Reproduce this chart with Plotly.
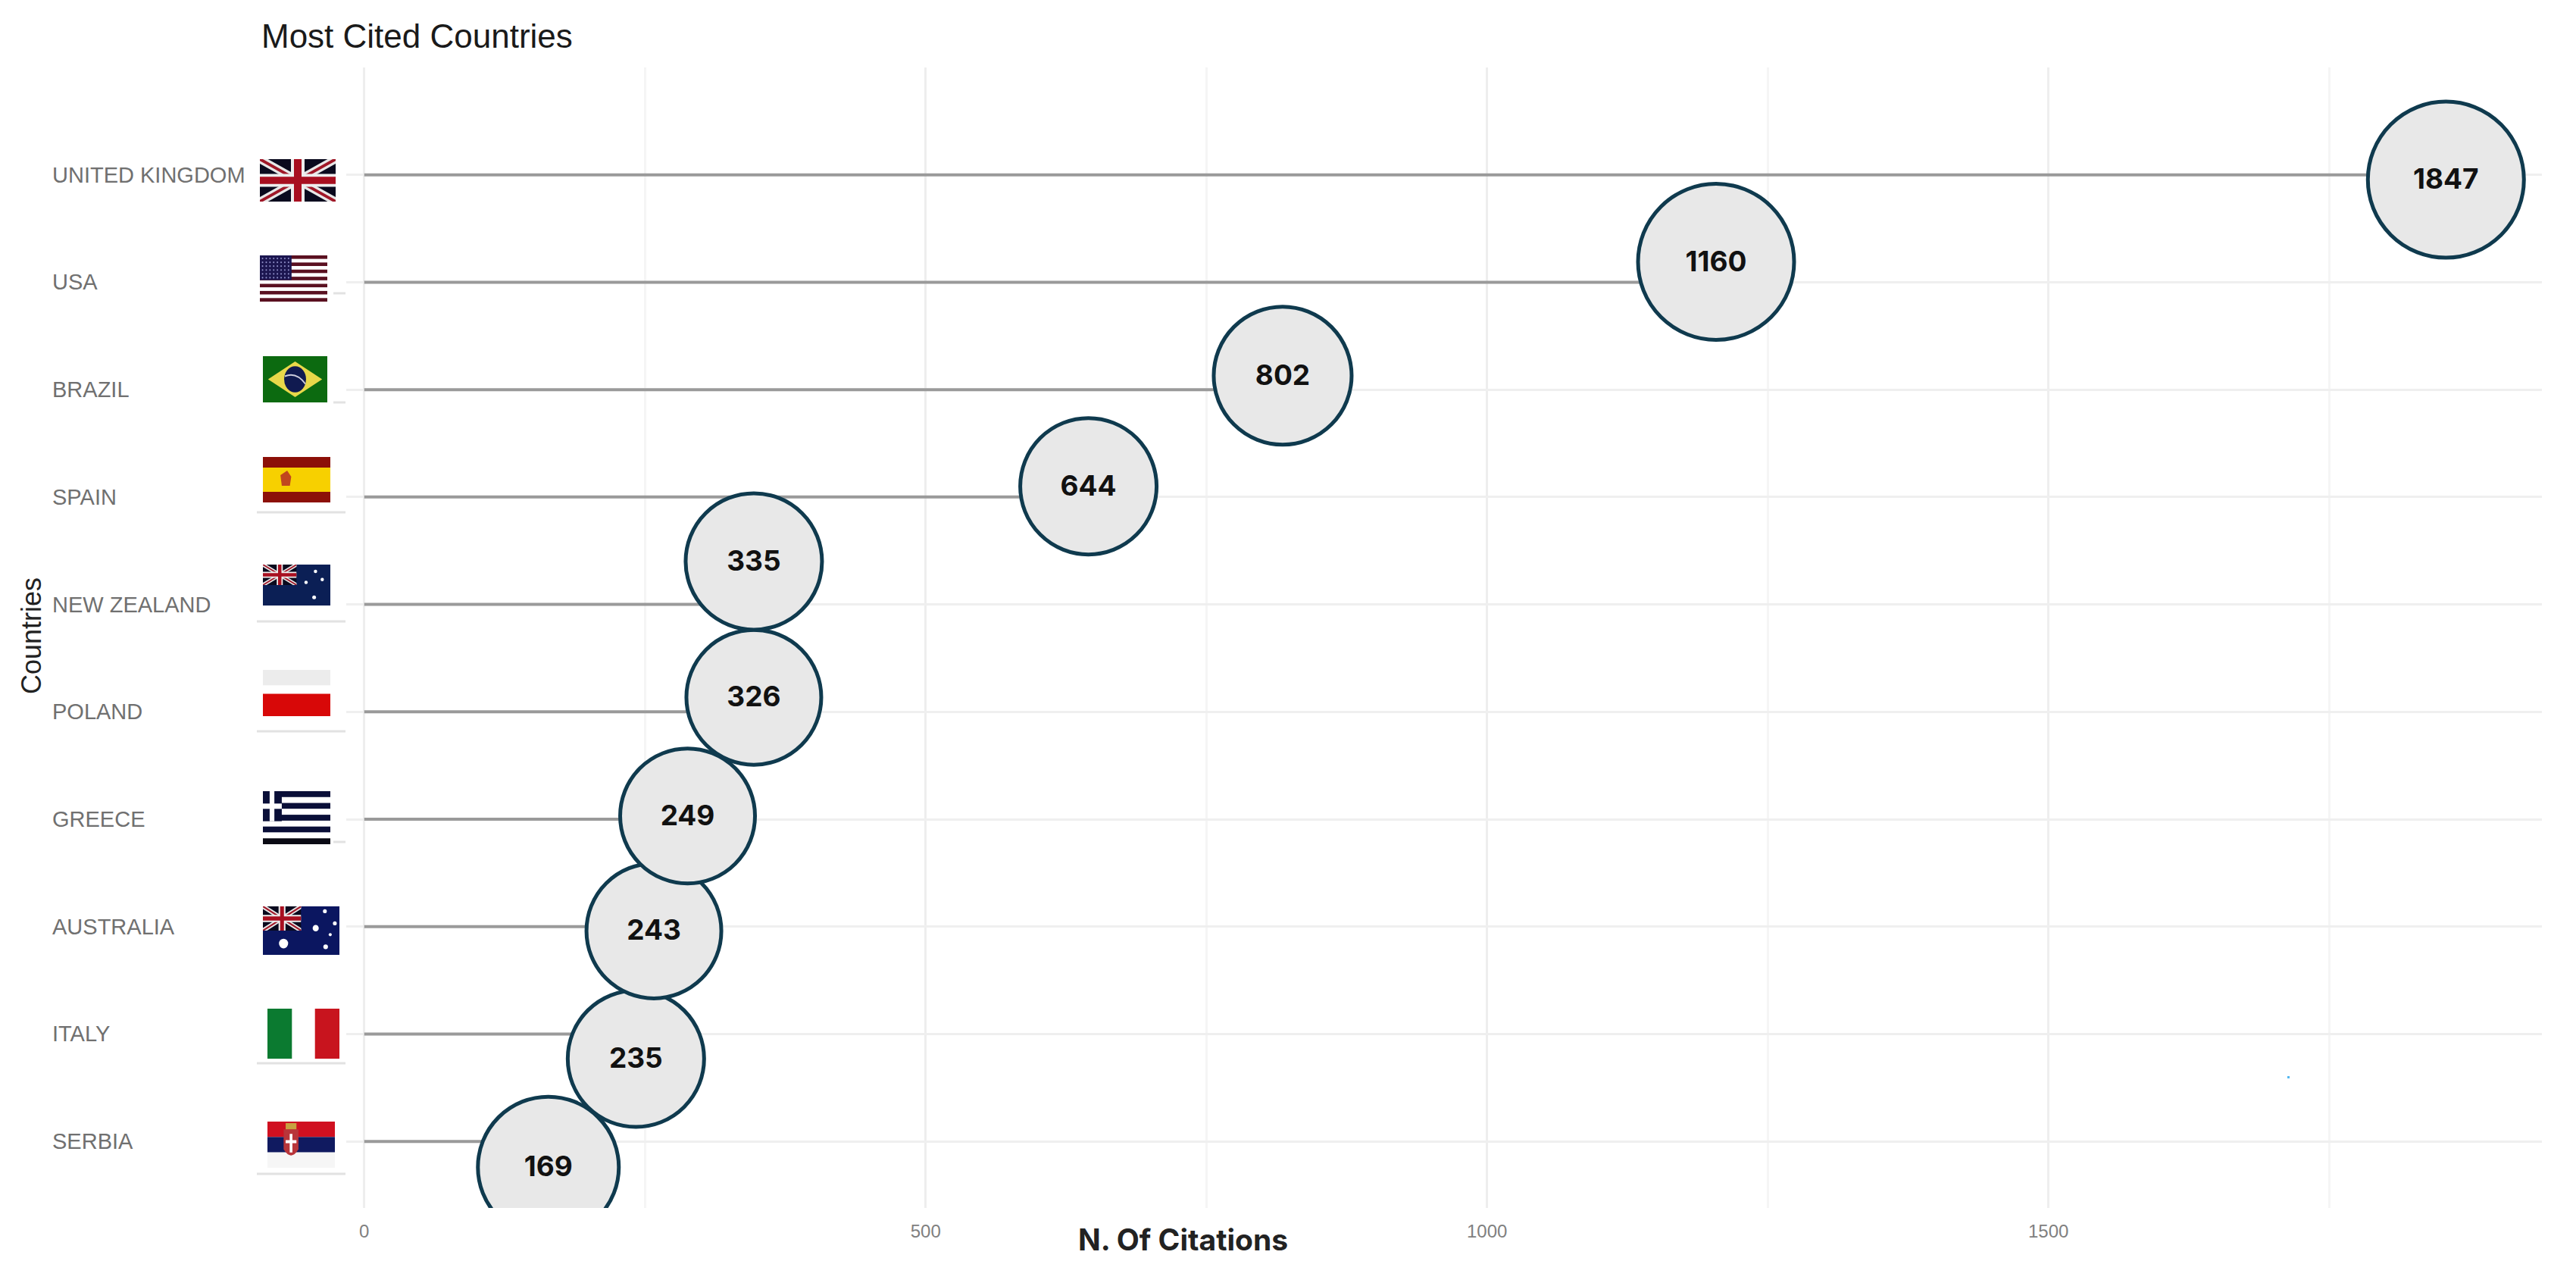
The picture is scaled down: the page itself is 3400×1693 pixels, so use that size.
import base64
import plotly.graph_objects as go

# ---- data ----
countries = ["SERBIA", "ITALY", "AUSTRALIA", "GREECE", "POLAND", "NEW ZEALAND", "SPAIN", "BRAZIL", "USA", "UNITED KINGDOM"]
rows = [0, 1, 2, 3, 4, 5, 6, 7, 8, 9]
labels = [169, 235, 243, 249, 326, 335, 644, 802, 1160, 1847]
bubble_x = [164, 242, 258, 288, 347, 347, 645, 818, 1204, 1854]
bubble_y = [-0.24, 0.77, 1.96, 3.03, 4.135, 5.40, 6.10, 7.13, 8.19, 8.955]
bubble_d = [186, 180, 178, 178, 178, 180, 180, 182, 206, 206]
x_major = [0, 500, 1000, 1500]
x_minor = [250, 750, 1250, 1750]

W, H = 3400, 1693
L, R, T, B = 457, 45, 89, 99
PW, PH = W - L - R, H - T - B
px = lambda v: (v - L) / PW
py = lambda v: 1 - (v - T) / PH


def svg(body, w=100, h=60):
    s = f'<svg xmlns="http://www.w3.org/2000/svg" viewBox="0 0 {w} {h}" preserveAspectRatio="none">{body}</svg>'
    return "data:image/svg+xml;base64," + base64.b64encode(s.encode()).decode()


def stripes(colors):
    n = len(colors)
    return "".join(f'<rect x="0" y="{i*60/n}" width="100" height="{60/n+0.2}" fill="{c}"/>' for i, c in enumerate(colors))


UNION = ('<rect width="100" height="60" fill="#0a0a1e"/>'
         '<path d="M0 0L100 60M100 0L0 60" stroke="#e8e8e8" stroke-width="11"/>'
         '<path d="M0 0L100 60M100 0L0 60" stroke="#a01828" stroke-width="4"/>'
         '<path d="M50 0V60M0 30H100" stroke="#eee" stroke-width="18"/>'
         '<path d="M50 0V60M0 30H100" stroke="#a80f20" stroke-width="10"/>')
STARS = lambda pts: "".join(f'<circle cx="{a}" cy="{b}" r="{r}" fill="#fff"/>' for a, b, r in pts)
AU_CANTON = ('<svg x="0" y="0" width="50" height="30" viewBox="0 0 100 60" preserveAspectRatio="none">' + UNION + '</svg>')

flags = {
    "UK": ((343, 210, 443, 266), svg(UNION)),
    "USA": ((343, 337, 432, 398), svg(
        stripes(["#5a1020", "#fff", "#5a1020", "#fff", "#5a1020", "#fff", "#5a1020", "#fff", "#5a1020", "#fff", "#5a1020", "#fff", "#5a1020"])
        + '<rect width="47" height="32" fill="#1c1650"/>'
        + "".join(f'<circle cx="{4+i*5.5}" cy="{4+j*5}" r="1.1" fill="#8f8fc8"/>' for i in range(8) for j in range(6)))),
    "BR": ((347, 470, 432, 531), svg(
        '<rect width="100" height="60" fill="#0c6a10"/>'
        '<path d="M50 7L92 30L50 53L8 30Z" fill="#e8d84a"/>'
        '<circle cx="50" cy="30" r="17" fill="#101a50"/>'
        '<path d="M34 26Q52 20 66 36" stroke="#ccd" stroke-width="2" fill="none"/>')),
    "ES": ((347, 603, 436, 663), svg(
        '<rect width="100" height="60" fill="#8c1008"/>'
        '<rect y="14" width="100" height="32" fill="#f7d000"/>'
        '<path d="M26 24L36 18L42 26L40 38H28Z" fill="#c0461e"/>')),
    "NZ": ((347, 745, 436, 799), svg(
        '<rect width="100" height="60" fill="#0b1f55"/>' + AU_CANTON
        + STARS([(78, 10, 2.5), (64, 26, 2.5), (88, 22, 2.5), (76, 48, 2.8)]))),
    "PL": ((347, 884, 436, 945), svg(
        '<rect width="100" height="20" fill="#ececec"/>'
        '<rect y="31" width="100" height="29" fill="#d80808"/>')),
    "GR": ((347, 1044, 436, 1114), svg(
        stripes(["#0a0f38", "#fff", "#0a0f38", "#fff", "#0a0f38", "#fff", "#0a0f38", "#fff", "#0a0a14"])
        + '<rect width="28" height="34" fill="#0a0f38"/>'
        '<rect x="10" width="7" height="34" fill="#fff"/><rect y="14" width="28" height="6" fill="#fff"/>')),
    "AU": ((347, 1196, 448, 1260), svg(
        '<rect width="100" height="60" fill="#0b1660"/>' + AU_CANTON
        + STARS([(27, 46, 6), (81, 6, 2.5), (69, 27, 4), (94, 21, 2.5), (88, 35, 2), (82, 50, 3)]))),
    "IT": ((353, 1331, 448, 1397), svg(
        '<rect width="34" height="60" fill="#0b7a30"/>'
        '<rect x="66" width="34" height="60" fill="#c8141e"/>')),
    "RS": ((353, 1480, 442, 1541), svg(
        '<rect width="100" height="20" fill="#d01020"/>'
        '<rect y="20" width="100" height="20" fill="#101a60"/>'
        '<rect y="40" width="100" height="20" fill="#f6f6f6"/>'
        '<path d="M24 10H46V36Q35 52 24 36Z" fill="#b8353a"/>'
        '<path d="M33 16h4v24h-4zM27 24h16v4h-16z" fill="#fff"/>'
        '<rect x="27" y="2" width="16" height="8" fill="#c8a040"/>')),
}

fig = go.Figure()

# lollipop stems
for c, r, bx in zip(countries, rows, bubble_x):
    fig.add_trace(go.Scatter(x=[0, bx], y=[r, r], mode="lines", showlegend=False, name=c,
                             line=dict(color="#9a9a9a", width=4), hoverinfo="skip"))

# bubbles
fig.add_trace(go.Scatter(
    x=bubble_x, y=bubble_y, mode="markers", showlegend=False,
    marker=dict(size=bubble_d, color="#e8e8e8", line=dict(color="#0f3a4e", width=5), opacity=1),
))
# bubble labels sit slightly below the bubble centres
fig.add_trace(go.Scatter(
    x=bubble_x, y=[v - 0.02 for v in bubble_y], mode="text", showlegend=False,
    text=[str(v) for v in labels], textposition="middle center",
    textfont=dict(family="Inter, Roboto, sans-serif", size=37, color="#111111", weight=700),
))

# left-aligned country labels
ann = [dict(x=px(67), y=r, xref="paper", yref="y", text=c, showarrow=False, xanchor="left", yanchor="middle",
            font=dict(family="Liberation Sans", size=29, color="#707070"))
       for c, r in zip(countries, rows)]
ann.append(dict(x=px(343), y=py(47), xref="paper", yref="paper", text="Most Cited Countries", showarrow=False,
                xanchor="left", yanchor="middle", font=dict(family="Liberation Sans", size=44, color="#1a1a1a")))
ann.append(dict(x=px(1561), y=py(1636), xref="paper", yref="paper", text="<b>N. Of Citations</b>", showarrow=False,
                xanchor="center", yanchor="middle", font=dict(family="Inter", size=39, color="#222222")))
ann.append(dict(x=px(42), y=py(839), xref="paper", yref="paper", text="Countries", showarrow=False, textangle=-90,
                xanchor="center", yanchor="middle", font=dict(family="Liberation Sans", size=36, color="#222222")))

# stray pieces of the source image: gridline stubs under the flags, erased patch
stubs = [(339, 456, 676), (339, 456, 820), (339, 456, 965), (339, 456, 1549),
         (440, 456, 387), (440, 456, 531), (440, 456, 1111), (339, 456, 1403)]
shapes = [dict(type="line", xref="paper", yref="paper", x0=px(a), x1=px(b), y0=py(c), y1=py(c),
               line=dict(color="#e2e2e2", width=3), layer="below") for a, b, c in stubs]
shapes.append(dict(type="rect", xref="paper", yref="paper", x0=px(3024), x1=px(3106), y0=py(1340), y1=py(1496),
                   fillcolor="#ffffff", line=dict(width=0), layer="between"))
shapes.append(dict(type="rect", xref="paper", yref="paper", x0=px(3019), x1=px(3022), y0=py(1420), y1=py(1423),
                   fillcolor="#55b8f0", line=dict(width=0), layer="above"))

images = [dict(source=src, xref="paper", yref="paper", x=px(x0), y=py(y0), sizex=(x1 - x0) / PW, sizey=(y1 - y0) / PH,
               xanchor="left", yanchor="top", sizing="stretch", layer="above")
          for (x0, y0, x1, y1), src in flags.values()]

fig.update_layout(
    width=W, height=H, margin=dict(l=L, r=R, t=T, b=B, autoexpand=False),
    paper_bgcolor="#ffffff", plot_bgcolor="#ffffff", showlegend=False,
    annotations=ann, shapes=shapes, images=images,
    xaxis=dict(range=[-16, 1939.5], tickmode="array", tickvals=x_major, ticktext=[str(v) for v in x_major],
               showgrid=True, gridcolor="#eeeeee", gridwidth=3, zeroline=False, showline=False,
               ticks="outside", ticklen=9, tickcolor="rgba(0,0,0,0)",
               tickfont=dict(family="Liberation Sans", size=24, color="#808080"),
               minor=dict(tickvals=x_minor, showgrid=True, gridcolor="#f5f5f5", gridwidth=3, ticks="")),
    yaxis=dict(range=[-0.62, 10.0], tickmode="array", tickvals=rows, showticklabels=False,
               showgrid=True, gridcolor="#efefef", gridwidth=3, zeroline=False, showline=False, ticks=""),
)

fig.write_html("out.html", config={"displayModeBar": False},
               post_script="document.body.style.margin='0';document.documentElement.style.overflow='hidden';")
